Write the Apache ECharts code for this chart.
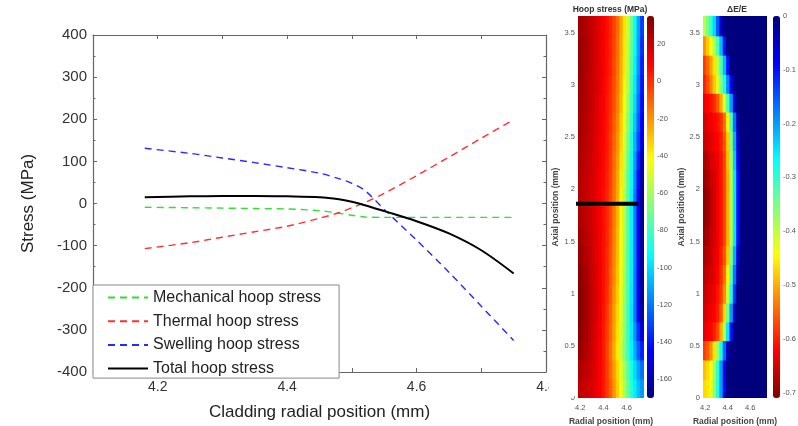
<!DOCTYPE html>
<html><head><meta charset="utf-8">
<script src="https://cdn.jsdelivr.net/npm/echarts@6/dist/echarts.min.js"></script>
<style>html,body{margin:0;padding:0;background:#fff}#c{width:798px;height:426px}</style>
</head><body><div id="c"></div>
<script>
// ---------- line chart data ----------
const radialPos  = [4.18, 4.25, 4.30, 4.35, 4.40, 4.45, 4.48, 4.50, 4.52, 4.55, 4.60, 4.65, 4.70, 4.75];
const mechanical = [-9, -10, -11, -12, -13, -17, -23, -28, -32, -33, -33, -33, -33, -33];
const thermal    = [-107, -93, -80, -67, -54, -35, -22, -10, 2, 24, 66, 110, 155, 199];
const swelling   = [131, 119, 108, 97, 85, 72, 59, 48, 31, -14, -87, -163, -244, -325];
const totalHoop  = [15, 17, 18, 18, 17, 15, 10, 4, -4, -18, -42, -71, -111, -166];
const seriesNames = ['Mechanical hoop stress', 'Thermal hoop stress', 'Swelling hoop stress', 'Total hoop stress'];
const xLabelVals = [4.2, 4.4, 4.6, 4.8];
const xTickVals  = [4.2, 4.3, 4.4, 4.5, 4.6, 4.7, 4.8];

// ---------- heatmap data ----------
const hmRadial = [4.195, 4.225, 4.255, 4.285, 4.315, 4.345, 4.375, 4.405, 4.435, 4.465, 4.495, 4.525, 4.555, 4.585, 4.615, 4.645, 4.675, 4.705, 4.735];
const hmAxial  = [0.09, 0.27, 0.46, 0.64, 0.82, 1.00, 1.19, 1.37, 1.55, 1.73, 1.92, 2.10, 2.28, 2.46, 2.65, 2.83, 3.01, 3.19, 3.38, 3.56];
const hmRadialRange = [4.18, 4.75];
const hmAxialRange  = [0, 3.66];
// hoop stress (MPa), rows bottom (axial 0) -> top
const hoopRows = [
  [22,21,20,18,16,13,10,5,-2,-10,-20,-32,-45,-58,-72,-85,-96,-106,-114],
  [25,24,22,20,17,14,10,5,-3,-12,-22,-34,-47,-60,-74,-88,-100,-112,-122],
  [30,28,25,22,18,14,10,4,-4,-14,-25,-38,-52,-66,-80,-95,-110,-125,-138],
  [32,30,27,23,19,15,11,5,-3,-12,-23,-36,-50,-64,-80,-97,-115,-135,-152],
  [33,31,28,24,20,16,12,6,-2,-11,-22,-34,-48,-63,-80,-98,-120,-145,-162],
  [33,31,28,24,20,16,12,7,0,-9,-20,-32,-46,-61,-78,-97,-120,-146,-165],
  [32,30,27,23,19,16,12,7,1,-8,-18,-30,-44,-60,-77,-96,-120,-146,-165],
  [30,28,25,22,18,15,12,7,1,-7,-17,-29,-43,-59,-76,-95,-119,-145,-165],
  [28,26,23,21,18,15,11,7,2,-6,-16,-28,-42,-58,-75,-95,-119,-145,-165],
  [26,24,22,20,17,14,11,7,2,-5,-15,-27,-41,-57,-75,-95,-119,-145,-165],
  [24,23,21,19,17,14,11,7,2,-5,-14,-25,-40,-57,-75,-95,-120,-145,-165],
  [24,23,21,19,17,14,11,8,3,-4,-13,-24,-38,-55,-73,-93,-117,-142,-162],
  [25,24,22,20,17,15,12,8,4,-3,-12,-22,-36,-52,-70,-90,-113,-138,-158],
  [26,25,23,21,18,15,12,9,4,-2,-10,-20,-33,-49,-67,-87,-108,-130,-150],
  [27,26,24,21,19,16,13,9,5,-1,-9,-18,-31,-46,-63,-83,-104,-125,-145],
  [28,27,25,22,19,16,13,10,5,0,-7,-16,-28,-43,-60,-80,-100,-122,-142],
  [29,28,25,22,20,17,14,10,6,1,-6,-15,-26,-40,-57,-77,-97,-118,-140],
  [30,28,26,23,20,17,14,11,7,2,-5,-14,-25,-38,-55,-75,-95,-115,-138],
  [30,28,26,23,20,17,14,11,7,2,-4,-13,-24,-37,-53,-73,-93,-113,-135],
  [28,27,25,22,20,17,14,11,7,2,-4,-12,-23,-36,-52,-71,-91,-111,-132]
];
// ΔE/E, rows bottom -> top
const deRows = [
  [-0.47,-0.46,-0.43,-0.37,-0.29,-0.20,-0.09,0,0,0,0,0,0,0,0,0,0,0,0],
  [-0.49,-0.47,-0.44,-0.38,-0.30,-0.20,-0.08,0,0,0,0,0,0,0,0,0,0,0,0],
  [-0.58,-0.56,-0.52,-0.46,-0.38,-0.28,-0.16,-0.04,0,0,0,0,0,0,0,0,0,0,0],
  [-0.64,-0.63,-0.62,-0.60,-0.57,-0.50,-0.39,-0.25,-0.10,0,0,0,0,0,0,0,0,0,0],
  [-0.65,-0.64,-0.63,-0.62,-0.60,-0.56,-0.47,-0.35,-0.20,-0.05,0,0,0,0,0,0,0,0,0],
  [-0.66,-0.65,-0.64,-0.63,-0.61,-0.58,-0.52,-0.41,-0.28,-0.12,0,0,0,0,0,0,0,0,0],
  [-0.67,-0.66,-0.65,-0.64,-0.62,-0.59,-0.54,-0.45,-0.32,-0.17,-0.03,0,0,0,0,0,0,0,0],
  [-0.68,-0.67,-0.66,-0.64,-0.63,-0.60,-0.56,-0.48,-0.36,-0.21,-0.06,0,0,0,0,0,0,0,0],
  [-0.69,-0.68,-0.66,-0.65,-0.63,-0.61,-0.57,-0.50,-0.39,-0.25,-0.10,0,0,0,0,0,0,0,0],
  [-0.70,-0.69,-0.67,-0.65,-0.63,-0.61,-0.57,-0.50,-0.39,-0.25,-0.10,0,0,0,0,0,0,0,0],
  [-0.70,-0.69,-0.67,-0.65,-0.63,-0.61,-0.57,-0.50,-0.39,-0.25,-0.10,0,0,0,0,0,0,0,0],
  [-0.69,-0.68,-0.66,-0.65,-0.63,-0.61,-0.57,-0.50,-0.39,-0.25,-0.10,0,0,0,0,0,0,0,0],
  [-0.68,-0.67,-0.65,-0.64,-0.63,-0.61,-0.57,-0.49,-0.38,-0.23,-0.08,0,0,0,0,0,0,0,0],
  [-0.66,-0.65,-0.64,-0.63,-0.62,-0.60,-0.56,-0.48,-0.36,-0.21,-0.06,0,0,0,0,0,0,0,0],
  [-0.65,-0.64,-0.63,-0.62,-0.61,-0.59,-0.54,-0.45,-0.32,-0.17,-0.03,0,0,0,0,0,0,0,0],
  [-0.63,-0.62,-0.61,-0.59,-0.56,-0.50,-0.42,-0.32,-0.20,-0.06,0,0,0,0,0,0,0,0,0],
  [-0.60,-0.57,-0.53,-0.48,-0.42,-0.36,-0.28,-0.18,-0.08,0,0,0,0,0,0,0,0,0,0],
  [-0.58,-0.55,-0.51,-0.46,-0.40,-0.32,-0.22,-0.10,0,0,0,0,0,0,0,0,0,0,0],
  [-0.52,-0.48,-0.44,-0.39,-0.32,-0.22,-0.10,0,0,0,0,0,0,0,0,0,0,0,0],
  [-0.40,-0.35,-0.30,-0.24,-0.15,-0.05,0,0,0,0,0,0,0,0,0,0,0,0,0]
];
const hmRadialLabels = [4.2, 4.4, 4.6];
const hmAxialLabels  = [0, 0.5, 1, 1.5, 2, 2.5, 3, 3.5];
const hoopBarLabels  = [20, 0, -20, -40, -60, -80, -100, -120, -140, -160];
const deBarLabels    = [0, -0.1, -0.2, -0.3, -0.4, -0.5, -0.6, -0.7];
const hoopRange = [-170, 35];
const deRange   = [-0.71, 0];
const cutAxial  = 1.86;
const cutRadial = [4.125, 4.70];

const jet = ['#00007f','#0000ff','#007fff','#00ffff','#7fff7f','#ffff00','#ff7f00','#ff0000','#7f0000'];
const FONT = 'Liberation Sans, Arial, sans-serif';

function toCells(rows) {
  const out = [];
  rows.forEach((row, yi) => row.forEach((v, xi) => out.push([hmRadial[xi], hmAxial[yi], v, xi, yi])));
  return out;
}
function edge(arr, range, i, side) {
  if (side < 0) return i === 0 ? range[0] : (arr[i - 1] + arr[i]) / 2;
  return i === arr.length - 1 ? range[1] : (arr[i] + arr[i + 1]) / 2;
}
function renderCell(params, api) {
  const xi = api.value(3), yi = api.value(4);
  const x0 = edge(hmRadial, hmRadialRange, xi, -1), x1 = edge(hmRadial, hmRadialRange, xi, 1);
  const y0 = edge(hmAxial, hmAxialRange, yi, -1), y1 = edge(hmAxial, hmAxialRange, yi, 1);
  const pA = api.coord([x0, y1]), pB = api.coord([x1, y0]);
  const cs = params.coordSys;
  const rect = echarts.graphic.clipRectByRect(
    {x: pA[0] - 0.5, y: pA[1] - 0.5, width: pB[0] - pA[0] + 1, height: pB[1] - pA[1] + 1},
    {x: cs.x, y: cs.y, width: cs.width, height: cs.height});
  if (!rect) return null;
  return {type: 'rect', shape: rect, style: {fill: api.visual('color')}};
}
const pairs = arr => radialPos.map((x, i) => [x, arr[i]]);

const chart = echarts.init(document.getElementById('c'), null, {renderer: 'canvas'});
const axisGray = '#666';
const hmLabel = {fontSize: 7.5, color: '#555', fontFamily: FONT, showMinLabel: true, showMaxLabel: true, hideOverlap: false};
const hmName = {fontSize: 8.5, fontWeight: 'bold', color: '#444', fontFamily: FONT};
const hmX = (gi) => ({gridIndex: gi, type: 'value', min: hmRadialRange[0], max: hmRadialRange[1],
  name: 'Radial position (mm)', nameLocation: 'middle', nameGap: 15, nameTextStyle: hmName,
  axisLine: {show: false}, axisTick: {show: false}, splitLine: {show: false},
  axisLabel: Object.assign({customValues: hmRadialLabels, margin: 6}, hmLabel)});
const hmY = (gi, gap) => ({gridIndex: gi, type: 'value', min: hmAxialRange[0], max: hmAxialRange[1],
  name: 'Axial position (mm)', nameLocation: 'middle', nameGap: gap, nameTextStyle: hmName,
  axisLine: {show: false}, axisTick: {show: false}, splitLine: {show: false},
  axisLabel: Object.assign({customValues: hmAxialLabels, margin: 3}, hmLabel)});
const barY = (gi, range, labels) => ({gridIndex: gi, type: 'value', min: range[0], max: range[1], position: 'right',
  axisLine: {show: false}, axisTick: {show: false}, splitLine: {show: false},
  axisLabel: Object.assign({customValues: labels, margin: 3}, hmLabel)});
const G = (l, t, w, h) => ({left: l, top: t, width: w, height: h, containLabel: false, outerBoundsMode: 'none'});

const option = {
  animation: false,
  backgroundColor: '#fff',
  grid: [G(93, 35, 453, 337), G(578, 16, 66, 382), G(647, 16, 7, 382), G(703, 16, 64, 382), G(773, 16, 7, 382)],
  xAxis: [
    {gridIndex: 0, type: 'value', min: 4.1, max: 4.8, position: 'bottom',
     name: 'Cladding radial position (mm)', nameLocation: 'middle', nameGap: 32,
     nameTextStyle: {fontSize: 17, color: '#222', fontFamily: FONT},
     axisLine: {onZero: false, lineStyle: {color: axisGray, width: 1.2}},
     axisTick: {inside: true, length: 4, customValues: xTickVals, lineStyle: {color: axisGray}},
     axisLabel: {customValues: xLabelVals, fontSize: 14, color: '#333', margin: 8, fontFamily: FONT},
     splitLine: {show: false}},
    {gridIndex: 0, type: 'value', min: 4.1, max: 4.8, position: 'top',
     axisLine: {onZero: false, lineStyle: {color: axisGray, width: 1.2}},
     axisTick: {inside: true, length: 4, customValues: xTickVals, lineStyle: {color: axisGray}},
     axisLabel: {show: false}, splitLine: {show: false}},
    hmX(1),
    {gridIndex: 2, type: 'value', min: 0, max: 1, show: false},
    hmX(3),
    {gridIndex: 4, type: 'value', min: 0, max: 1, show: false}
  ],
  yAxis: [
    {gridIndex: 0, type: 'value', min: -400, max: 400, interval: 100,
     name: 'Stress (MPa)', nameLocation: 'middle', nameGap: 56,
     nameTextStyle: {fontSize: 17, color: '#222', fontFamily: FONT},
     axisLine: {show: true, onZero: false, lineStyle: {color: axisGray, width: 1.2}},
     axisTick: {inside: true, length: 4, lineStyle: {color: axisGray}},
     minorTick: {show: true, splitNumber: 2, length: 2.5, lineStyle: {color: axisGray}},
     axisLabel: {fontSize: 15, color: '#333', margin: 6, fontFamily: FONT},
     splitLine: {show: false}},
    {gridIndex: 0, type: 'value', min: -400, max: 400, interval: 100, position: 'right',
     axisLine: {show: true, onZero: false, lineStyle: {color: axisGray, width: 1.2}},
     axisTick: {inside: true, length: 4, lineStyle: {color: axisGray}},
     minorTick: {show: true, splitNumber: 2, length: 2.5, lineStyle: {color: axisGray}},
     axisLabel: {show: false}, splitLine: {show: false}},
    hmY(1, 18),
    barY(2, hoopRange, hoopBarLabels),
    hmY(3, 17),
    barY(4, deRange, deBarLabels)
  ],
  visualMap: [
    {type: 'continuous', seriesIndex: 4, dimension: 2, min: hoopRange[0], max: hoopRange[1],
     calculable: false, realtime: false, hoverLink: false, left: 647, top: 16, padding: 0,
     itemWidth: 7, itemHeight: 382, inRange: {color: jet}},
    {type: 'continuous', seriesIndex: 6, dimension: 2, min: deRange[0], max: deRange[1],
     calculable: false, realtime: false, hoverLink: false, left: 773, top: 16, padding: 0,
     itemWidth: 7, itemHeight: 382, inRange: {color: jet.slice().reverse()}}
  ],
  legend: {
    data: seriesNames, orient: 'vertical', left: 93, top: 285,
    padding: [4.5, 18, 1.5, 14], itemWidth: 40, itemHeight: 14, itemGap: 7.7,
    backgroundColor: '#fff', borderColor: '#888', borderWidth: 1,
    itemStyle: {opacity: 0},
    textStyle: {fontSize: 16, color: '#222', fontFamily: FONT},
    selectedMode: false, z: 10
  },
  graphic: [
    {type: 'rect', left: 549, top: 378, shape: {width: 25, height: 20}, style: {fill: '#fff'}, z: 100},
    {type: 'text', x: 610, y: 10, style: {text: 'Hoop stress (MPa)', font: 'bold 8.5px Liberation Sans, Arial', fill: '#333', align: 'center', verticalAlign: 'middle'}, z: 100},
    {type: 'text', x: 737, y: 10, style: {text: 'ΔE/E', font: 'bold 8.5px Liberation Sans, Arial', fill: '#333', align: 'center', verticalAlign: 'middle'}, z: 100}
  ],
  series: [
    {name: seriesNames[0], type: 'line', xAxisIndex: 0, yAxisIndex: 0, data: pairs(mechanical), symbol: 'none', smooth: 0.3,
     lineStyle: {color: '#2fe02f', width: 1.4, type: [7, 5]}, itemStyle: {color: '#2fe02f'}},
    {name: seriesNames[1], type: 'line', xAxisIndex: 0, yAxisIndex: 0, data: pairs(thermal), symbol: 'none', smooth: 0.3,
     lineStyle: {color: '#ff3030', width: 1.4, type: [7, 5]}, itemStyle: {color: '#ff3030'}},
    {name: seriesNames[2], type: 'line', xAxisIndex: 0, yAxisIndex: 0, data: pairs(swelling), symbol: 'none', smooth: 0.3,
     lineStyle: {color: '#2a2aff', width: 1.4, type: [7, 5]}, itemStyle: {color: '#2a2aff'}},
    {name: seriesNames[3], type: 'line', xAxisIndex: 0, yAxisIndex: 0, data: pairs(totalHoop), symbol: 'none', smooth: 0.3,
     lineStyle: {color: '#000', width: 2}, itemStyle: {color: '#000'}},
    {type: 'custom', xAxisIndex: 2, yAxisIndex: 2, data: toCells(hoopRows), renderItem: renderCell,
     encode: {x: 0, y: 1}, silent: true, progressive: 0},
    {type: 'line', xAxisIndex: 2, yAxisIndex: 2, data: cutRadial.map(r => [r, cutAxial]), symbol: 'none',
     clip: false, z: 5, lineStyle: {color: '#000', width: 4}, silent: true},
    {type: 'custom', xAxisIndex: 4, yAxisIndex: 4, data: toCells(deRows), renderItem: renderCell,
     encode: {x: 0, y: 1}, silent: true, progressive: 0}
  ]
};
chart.setOption(option);
</script></body></html>
